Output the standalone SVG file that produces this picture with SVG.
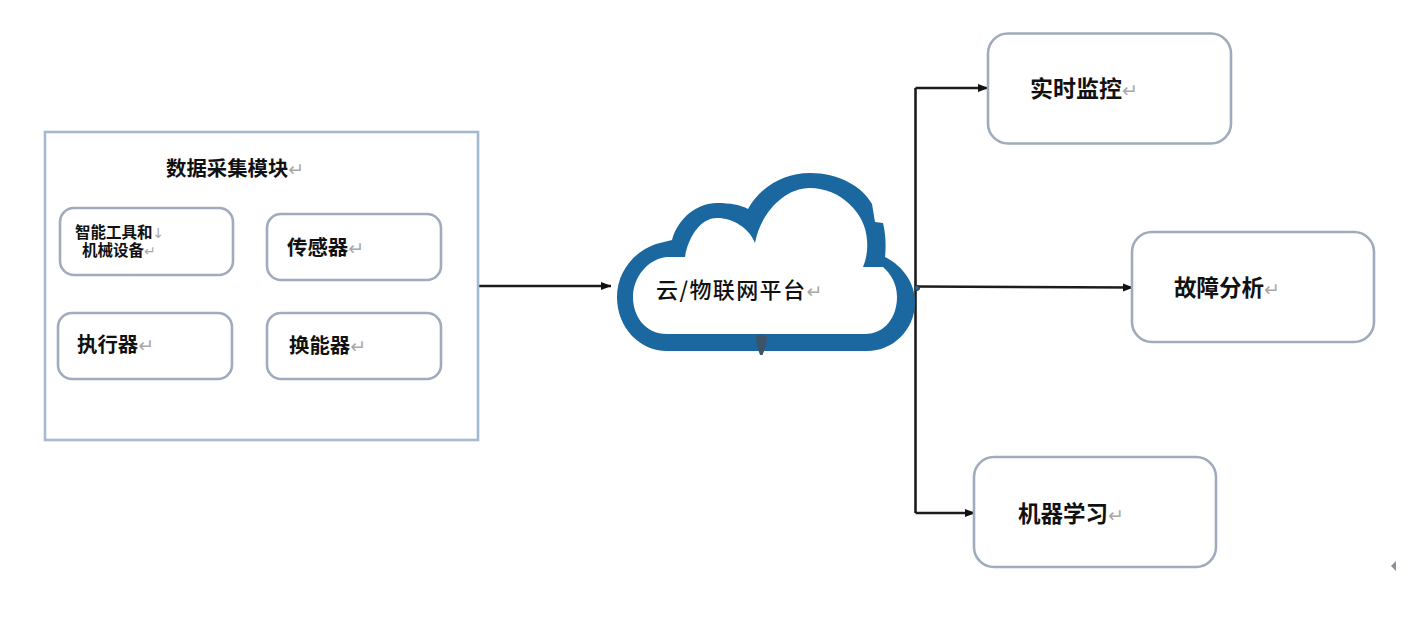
<svg xmlns="http://www.w3.org/2000/svg" width="1423" height="621" viewBox="0 0 1423 621">
  <style>
    text { font-family: "Noto Sans CJK SC", "Noto Sans", sans-serif; font-weight: 700; fill: #111; }
    .s16 { font-size: 15.5px; }
    .s20 { font-size: 20.400px; }
    .s22 { font-size: 22.500px; }
    .s23 { font-size: 23px; }
    .plain { font-weight: 500; font-size: 22px; letter-spacing: 1.400px; }
    .mark { font-family: "DejaVu Sans", sans-serif; font-weight: 400; fill: #a8a8a8; font-size: 19px; letter-spacing: 0; }
    .mark-small { font-size: 14px; }
    .frame { fill: #fff; stroke: #a5b9d2; stroke-width: 2.6; }
    .box { fill: #fff; stroke: #a0abbb; stroke-width: 2.6; }
    .wire { fill: none; stroke: #1c1c1c; stroke-width: 2.6; }
  </style>
  <defs>
    <marker id="arrow" markerUnits="userSpaceOnUse" markerWidth="11" markerHeight="10" refX="10" refY="5" orient="auto">
      <path d="M0 1 L10.500 5 L0 9 Z" fill="#111"/>
    </marker>
  </defs>
  <rect width="1423" height="621" fill="#fff"/>

  <g id="connectors">
    <path class="wire" marker-end="url(#arrow)" d="M478 286 H611"/>
    <path class="wire" d="M915.500 88 V513"/>
    <path class="wire" marker-end="url(#arrow)" d="M915.500 88 H988"/>
    <path class="wire" marker-end="url(#arrow)" d="M915.500 286.500 L1133 287.500"/>
    <path class="wire" marker-end="url(#arrow)" d="M915.500 513 H975"/>
  </g>

  <g id="data-module">
    <rect class="frame" x="45" y="132" width="433" height="308"/>
    <text class="s20" x="166" y="176">数据采集模块<tspan class="mark">↵</tspan></text>
  </g>
  <g id="smart-tools">
    <rect class="box" x="60" y="208" width="173" height="67" rx="14"/>
    <text class="s16" x="75" y="238">智能工具和<tspan class="mark mark-small">↓</tspan></text>
    <text class="s16" x="82" y="256">机械设备<tspan class="mark mark-small">↵</tspan></text>
  </g>
  <g id="sensor">
    <rect class="box" x="267" y="214" width="174" height="66" rx="14"/>
    <text class="s20" x="287" y="255">传感器<tspan class="mark">↵</tspan></text>
  </g>
  <g id="actuator">
    <rect class="box" x="58" y="313" width="174" height="66" rx="14"/>
    <text class="s20" x="77" y="352">执行器<tspan class="mark">↵</tspan></text>
  </g>
  <g id="transducer">
    <rect class="box" x="267" y="313" width="174" height="66" rx="14"/>
    <text class="s20" x="289" y="353">换能器<tspan class="mark">↵</tspan></text>
  </g>

  <g id="cloud-platform">
    <!-- outer silhouette, then the white interior on top of it -->
    <path fill="#1a689f" d="M667 351 C640 351 617 328 617 297 C617 270 637 247 664 242 L672 240 C678 218 697 203 717 203 C730 203 741 205 748 209 C760 187 784 173 810 173 C838 173 862 186 872 204 L875 222 L883 223 C886 235 886 248 885 257 C903 266 915 283 915 302 C915 330 893 351 867 351 Z"/>
    <path fill="#fff" d="M667 334 C645 334 633 316 633 297 C633 278 647 259 667 257 L685 257 C688 238 700 218 717 218 C733 218 749 228 755 243 C760 215 783 188 810 188 C840 188 866 213 867 240 C868 250 866 260 863 267 H883 C891 274 897 284 897 297 C897 317 885 334 865 334 Z"/>
    <path d="M756 336 Q761.500 333 767 336 L766 346 L762.500 355 L760 355 L757 346 Z" fill="#3d5468"/>
    <circle cx="917" cy="288" r="2.500" fill="#1a689f" stroke="#333" stroke-width="1"/>
    <text class="plain" x="656" y="298">云/物联网平台<tspan class="mark">↵</tspan></text>
  </g>

  <g id="monitoring">
    <rect class="box" x="988" y="33.500" width="243" height="110" rx="20"/>
    <text class="s23" x="1030" y="97">实时监控<tspan class="mark">↵</tspan></text>
  </g>
  <g id="fault-analysis">
    <rect class="box" x="1132" y="232" width="242" height="110" rx="20"/>
    <text class="s22" x="1174" y="296">故障分析<tspan class="mark">↵</tspan></text>
  </g>
  <g id="machine-learning">
    <rect class="box" x="974" y="457" width="242" height="110" rx="20"/>
    <text class="s22" x="1018" y="522">机器学习<tspan class="mark">↵</tspan></text>
  </g>

  <path d="M1396 561 L1391 566 L1396 571 Z" fill="#8a9299"/>
</svg>
